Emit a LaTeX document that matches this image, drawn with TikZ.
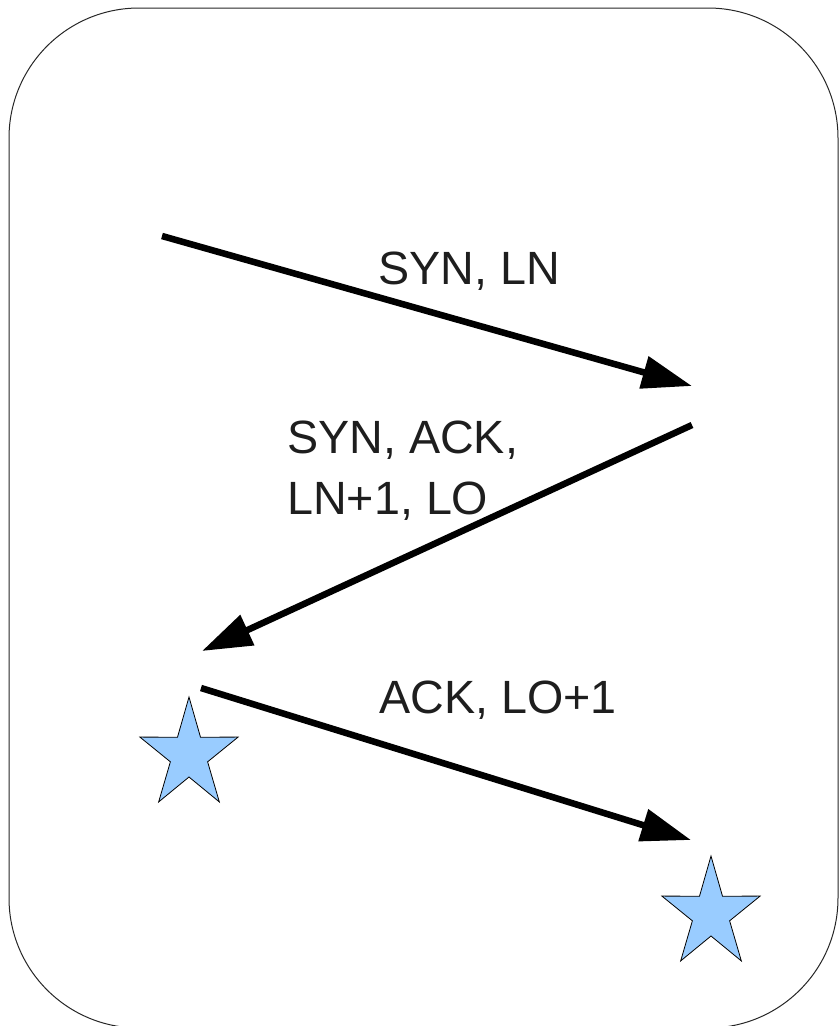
\documentclass[tikz,border=0pt]{standalone}
\usepackage{fontspec}
\setmainfont{Liberation Sans}
\usetikzlibrary{arrows.meta}
\definecolor{starblue}{HTML}{99CCFF}
\definecolor{txt}{HTML}{1E1E1E}
\tikzset{
  frame/.style={draw=black!85, line width=0.75pt, rounded corners=97.5pt},
  msg/.style={draw=black, line width=4.9pt, -{Triangle[length=37.5pt, width=24pt]}},
  lbl/.style={inner sep=0pt, text=txt, font=\fontsize{35}{45.75}\selectfont},
  starshape/.style={draw=black, line width=0.6pt, fill=starblue, line join=miter},
  pics/bluestar/.style={code={
    \draw[starshape, xscale=0.89] (270:58) -- (306:22) -- (342:58) -- (18:22) -- (54:58)
      -- (90:22) -- (126:58) -- (162:22) -- (198:58) -- (234:22) -- cycle;
  }}
}
\begin{document}
\begin{tikzpicture}[x=0.75pt, y=-0.75pt]
\useasboundingbox (0,0) rectangle (840,1026);
\draw[frame] (9,8) rectangle (838,1028);

\coordinate (a1s) at (162,236);
\coordinate (a1e) at (692,386);
\coordinate (a2s) at (692,425);
\coordinate (a2e) at (202,651);
\coordinate (a3s) at (201,688);
\coordinate (a3e) at (691,840);

\draw[msg] (a1s) -- (a1e);
\draw[msg] (a2s) -- (a2e);
\draw[msg] (a3s) -- (a3e);

\node[lbl, anchor=base west] (l1) at (378,284) {SYN, LN};
\node[lbl, anchor=north west, align=left] (l2) at (287,421) {SYN, ACK,\\LN+1, LO};
\node[lbl, anchor=base west] (l3) at (379,713) {ACK, LO+1};

\pic (s1) at (189,755) {bluestar};
\pic (s2) at (711,914) {bluestar};
\end{tikzpicture}
\end{document}
